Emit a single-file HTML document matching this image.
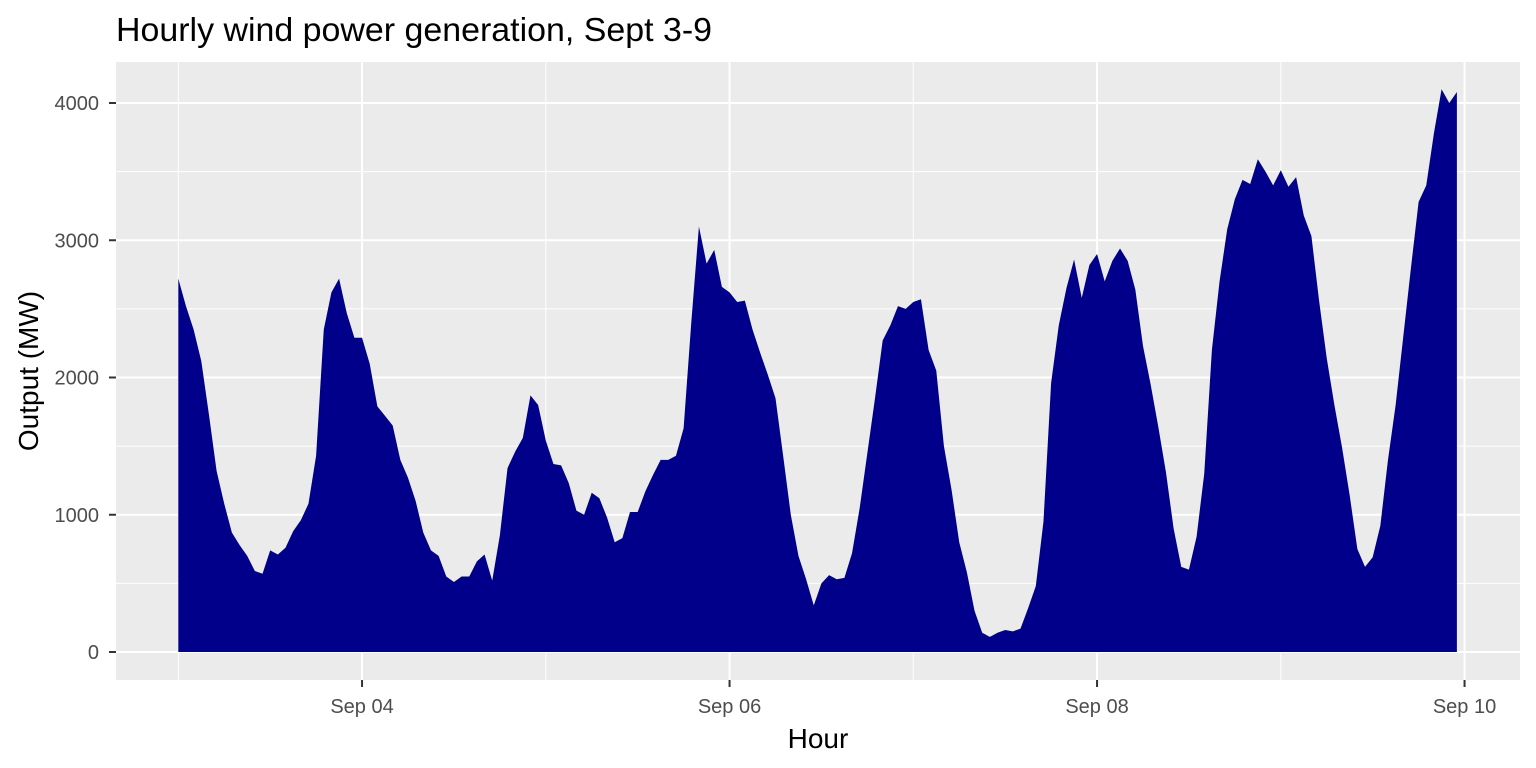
<!DOCTYPE html>
<html><head><meta charset="utf-8"><style>
body{margin:0;background:#fff;}
svg{display:block;font-family:"Liberation Sans",Arial,sans-serif;}
</style></head><body>
<svg id="chart" width="1536" height="768" xmlns="http://www.w3.org/2000/svg">
<rect width="1536" height="768" fill="#fff"/>
<text x="116" y="41" font-size="33" textLength="596" lengthAdjust="spacingAndGlyphs" fill="#000">Hourly wind power generation, Sept 3-9</text>
<rect x="116" y="62" width="1404" height="618" fill="#ebebeb"/>
<g id="grid"></g>
<path id="area" fill="#00008b"/>
<g id="axes"></g>
<text x="818" y="748" font-size="28" text-anchor="middle" fill="#000">Hour</text>
<text transform="translate(38,371) rotate(-90)" font-size="28" text-anchor="middle" fill="#000">Output (MW)</text>
</svg>
<script>
const outputMW = [
2720,2520,2350,2120,1730,1320,1080,870,780,700,590,570,740,710,760,880,960,1080,1430,2350,2620,2720,2470,2290,
2290,2100,1790,1720,1650,1400,1270,1100,870,740,700,550,510,550,550,660,710,520,850,1340,1460,1560,1870,1800,
1540,1370,1360,1230,1030,1000,1160,1120,980,800,830,1020,1020,1170,1290,1400,1400,1430,1630,2400,3100,2830,2930,2660,
2620,2550,2560,2350,2180,2020,1850,1430,1000,700,530,340,500,560,530,540,720,1050,1450,1850,2270,2380,2520,2500,
2550,2570,2200,2050,1500,1180,800,580,300,140,110,140,160,150,170,320,480,950,1960,2380,2650,2860,2580,2820,
2900,2700,2850,2940,2850,2640,2230,1950,1640,1310,900,620,600,840,1300,2200,2700,3080,3300,3440,3410,3590,3500,3400,
3510,3390,3460,3180,3030,2560,2140,1800,1490,1140,750,620,690,920,1400,1800,2300,2800,3280,3400,3780,4100,4000,4080
];
const yTicks = [0,1000,2000,3000,4000];
const yMinor = [500,1500,2500,3500];
const xTickDays = [1,3,5,7];
const xTickLabels = ["Sep 04","Sep 06","Sep 08","Sep 10"];
const xMinorDays = [0,2,4,6];

const NS="http://www.w3.org/2000/svg";
const x0=178.3, dayPx=183.75;
function xh(h){return x0+h*dayPx/24;}
function xd(d){return x0+d*dayPx;}
function y(v){return 652-v*0.13725;}
function mk(tag,attrs,parent){const e=document.createElementNS(NS,tag);for(const k in attrs)e.setAttribute(k,attrs[k]);parent.appendChild(e);return e;}
const grid=document.getElementById('grid'), axes=document.getElementById('axes');
yMinor.forEach(v=>{const l=mk('line',{x1:116,x2:1520,y1:y(v),y2:y(v),stroke:'#fff','stroke-width':1},grid);

});
xMinorDays.forEach(d=>{const l=mk('line',{x1:xd(d),x2:xd(d),y1:62,y2:680,stroke:'#fff','stroke-width':1},grid);

});
yTicks.forEach(v=>{const l=mk('line',{x1:116,x2:1520,y1:y(v),y2:y(v),stroke:'#fff','stroke-width':2},grid);


const t=mk('line',{x1:109,x2:116,y1:y(v),y2:y(v),stroke:'#333','stroke-width':2},axes);


const tx=mk('text',{x:99,y:y(v)+7,'font-size':20,'text-anchor':'end',fill:'#4d4d4d'},axes);tx.textContent=v;

});
xTickDays.forEach((d,i)=>{const l=mk('line',{x1:xd(d),x2:xd(d),y1:62,y2:680,stroke:'#fff','stroke-width':2},grid);


const t=mk('line',{x1:xd(d),x2:xd(d),y1:680,y2:687,stroke:'#333','stroke-width':2},axes);


const tx=mk('text',{x:xd(d),y:713,'font-size':20,'text-anchor':'middle',fill:'#4d4d4d'},axes);tx.textContent=xTickLabels[i];

});
let dStr='M'+xh(0)+','+y(0);
outputMW.forEach((v,h)=>{dStr+=' L'+xh(h).toFixed(2)+','+y(v).toFixed(2);});
dStr+=' L'+xh(outputMW.length-1).toFixed(2)+','+y(0)+' Z';
document.getElementById('area').setAttribute('d',dStr);
</script>
</body></html>
